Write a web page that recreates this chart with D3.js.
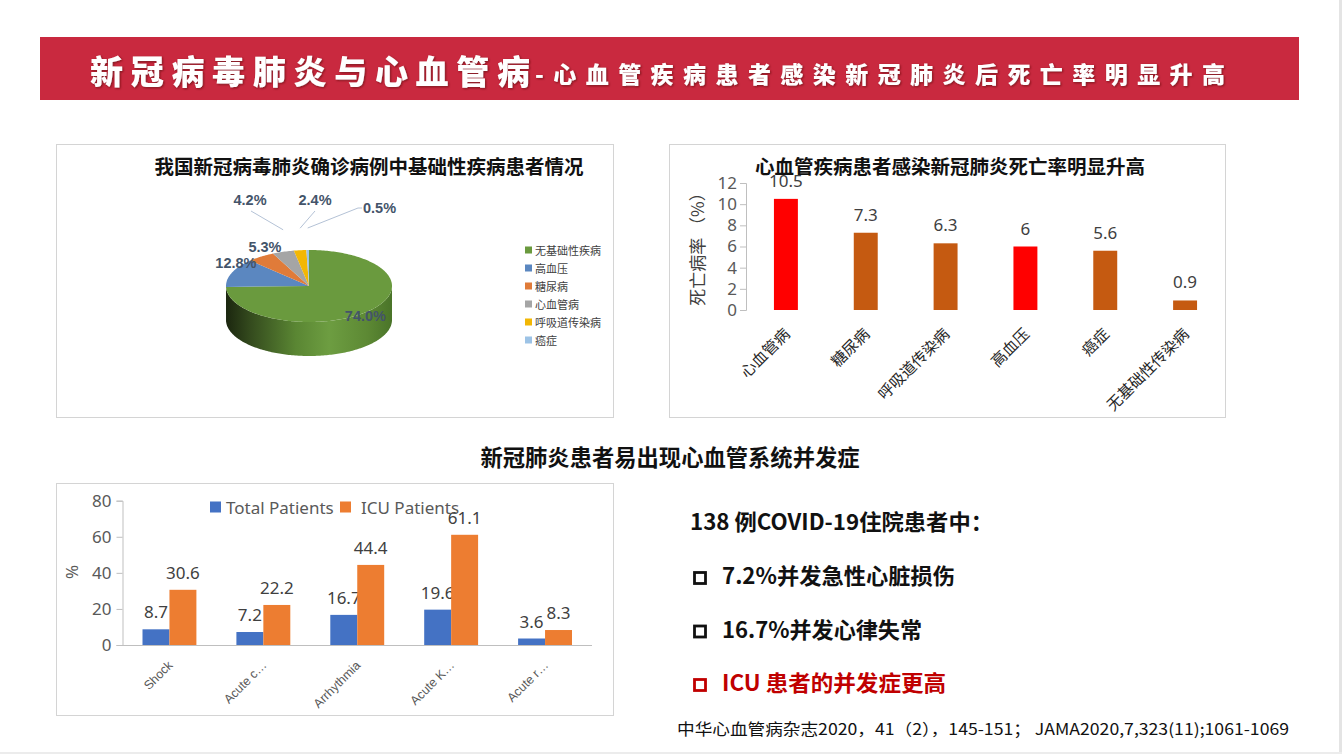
<!DOCTYPE html>
<html>
<head>
<meta charset="utf-8">
<script src="https://cdn.jsdelivr.net/npm/d3@7"></script>
<style>
  body { margin: 0; background: #fff; }
  svg { display: block; font-family: "Noto Sans CJK SC", "Noto Sans", sans-serif; }
</style>
</head>
<body>
<svg id="page" width="1342" height="754"></svg>
<script>
// ---- data ----
var pieCats = ["无基础性疾病", "高血压", "糖尿病", "心血管病", "呼吸道传染病", "癌症"];
var pieVals = [74.0, 12.8, 5.3, 4.2, 2.4, 0.5];
var pieColors = ["#6a9a3e", "#5b87c0", "#e07b39", "#a5a5a5", "#f2b705", "#9dc3e6"];

var mortCats = ["心血管病", "糖尿病", "呼吸道传染病", "高血压", "癌症", "无基础性传染病"];
var mortVals = [10.5, 7.3, 6.3, 6, 5.6, 0.9];
var mortTicks = [0, 2, 4, 6, 8, 10, 12];
var mortHighlight = ["心血管病", "高血压"];

var compCats = ["Shock", "Acute c…", "Arrhythmia", "Acute K…", "Acute r…"];
var totalVals = [8.7, 7.2, 16.7, 19.6, 3.6];
var icuVals = [30.6, 22.2, 44.4, 61.1, 8.3];
var compTicks = [0, 20, 40, 60, 80];
var compSeries = ["Total Patients", "ICU Patients"];

var svg = d3.select("#page");
var defs = svg.append("defs");

// page edges
svg.append("rect").attr("x", 1339).attr("y", 0).attr("width", 3).attr("height", 754).attr("fill", "#e4e4e4");
svg.append("rect").attr("x", 0).attr("y", 752).attr("width", 1342).attr("height", 2).attr("fill", "#ececec");

// ---- banner ----
var shadow = defs.append("filter").attr("id", "tshadow");
shadow.append("feDropShadow").attr("dx", 1).attr("dy", 1).attr("stdDeviation", 0.8)
    .attr("flood-color", "#5a0a14").attr("flood-opacity", 0.7);

svg.append("rect").attr("x", 40).attr("y", 37).attr("width", 1259).attr("height", 63).attr("fill", "#c9293f");
svg.append("text").attr("x", 90).attr("y", 84)
    .attr("textLength", 440).attr("lengthAdjust", "spacing")
    .attr("fill", "#fff").attr("font-size", 33).attr("font-weight", 900)
    .attr("filter", "url(#tshadow)")
    .text("新冠病毒肺炎与心血管病");
svg.append("text").attr("x", 535).attr("y", 83)
    .attr("textLength", 690).attr("lengthAdjust", "spacing")
    .attr("fill", "#fff").attr("font-size", 23).attr("font-weight", 900)
    .attr("filter", "url(#tshadow)")
    .text("-心血管疾病患者感染新冠肺炎后死亡率明显升高");

// ---- panel frames ----
function frame(x, y, w, h) {
    svg.append("rect").attr("x", x + 0.5).attr("y", y + 0.5).attr("width", w).attr("height", h)
        .attr("fill", "none").attr("stroke", "#d4d4d4").attr("stroke-width", 1);
}
frame(56, 144, 557, 273);
frame(669, 144, 556, 273);
frame(56, 483, 557, 232);

// ---- panel 1: 3d pie ----
svg.append("text").attr("x", 369).attr("y", 174).attr("text-anchor", "middle")
    .attr("font-size", 19.5).attr("font-weight", "bold").attr("fill", "#111")
    .text("我国新冠病毒肺炎确诊病例中基础性疾病患者情况");

var cx = 309, cy = 286, rx = 83, ry = 36, depth = 34;
function ell(a, k) { return [cx + rx * k * Math.sin(a), cy - ry * k * Math.cos(a)]; }
function samples(a0, a1) {
    var n = Math.max(2, Math.ceil(Math.abs(a1 - a0) / 0.02)), pts = [];
    for (var i = 0; i <= n; i++) pts.push(ell(a0 + (a1 - a0) * i / n, 1));
    return pts;
}

var sideGrad = defs.append("linearGradient").attr("id", "sideGreen")
    .attr("gradientUnits", "userSpaceOnUse")
    .attr("x1", cx - rx).attr("x2", cx + rx).attr("y1", 0).attr("y2", 0);
[[0, "#1b260f"], [0.14, "#33491d"], [0.42, "#5a8633"], [0.62, "#6d9d41"], [0.85, "#5d8934"], [1, "#4a7429"]]
    .forEach(function (s) { sideGrad.append("stop").attr("offset", s[0]).attr("stop-color", s[1]); });

var arcs = d3.pie().sort(null).value(function (d) { return d; })
    .startAngle(0).endAngle(2 * Math.PI)(pieVals);

var pieG = svg.append("g");
arcs.forEach(function (a, i) {
    var s = Math.max(a.startAngle, Math.PI / 2), e = Math.min(a.endAngle, 3 * Math.PI / 2);
    if (e <= s) return;
    var topPts = samples(s, e);
    var botPts = topPts.map(function (p) { return [p[0], p[1] + depth]; }).reverse();
    pieG.append("path").attr("d", d3.line()(topPts.concat(botPts)) + "Z")
        .attr("fill", i == 0 ? "url(#sideGreen)" : d3.color(pieColors[i]).darker(1));
});
arcs.forEach(function (a, i) {
    var pts = [[cx, cy]].concat(samples(a.startAngle, a.endAngle));
    pieG.append("path").attr("d", d3.line()(pts) + "Z").attr("fill", pieColors[i]);
});

// pie labels
var small = 0;
arcs.forEach(function (a, i) {
    var mid = (a.startAngle + a.endAngle) / 2;
    var p = ell(mid, 1);
    var lbl = pieVals[i].toFixed(1) + "%";
    var t = svg.append("text").attr("font-family", "Liberation Sans, Arial, sans-serif")
        .attr("font-size", 14.5).attr("font-weight", "bold").attr("fill", "#44546a")
        .attr("dominant-baseline", "central");
    if (pieVals[i] >= 5) {
        t.attr("x", p[0] + (Math.cos(mid) < 0 ? -3 : 4)).attr("y", p[1] + (Math.cos(mid) < 0 ? 5 : -10))
            .attr("text-anchor", "middle").text(lbl);
    } else {
        var j = small++;
        var sx = p[0], sy = p[1] - 22;
        var lx = cx + (j - 1) * 65 + 6;
        var pts;
        if (j < 2) {
            pts = [[sx, sy], [lx + (j == 0 ? 1 : 0), cy - 75]];
            t.attr("x", lx).attr("y", cy - 86).attr("text-anchor", "middle");
        } else {
            pts = [[sx, sy], [lx - 22, cy - 78], [lx - 18, cy - 78]];
            t.attr("x", lx - 17).attr("y", cy - 78).attr("text-anchor", "start");
        }
        t.text(lbl);
        svg.append("path").attr("d", d3.line()(pts)).attr("fill", "none")
            .attr("stroke", "#b4c2d6").attr("stroke-width", 1);
    }
});

// pie legend
var pieLeg = svg.append("g").attr("transform", "translate(525,250)");
pieCats.forEach(function (c, i) {
    var g = pieLeg.append("g").attr("transform", "translate(0," + (i * 18) + ")");
    g.append("rect").attr("x", 0).attr("y", -3.5).attr("width", 7).attr("height", 7).attr("fill", pieColors[i]);
    g.append("text").attr("x", 10).attr("y", 0).attr("dominant-baseline", "central")
        .attr("font-size", 11).attr("fill", "#404040").text(c);
});

// ---- panel 2: mortality bars ----
svg.append("text").attr("x", 950).attr("y", 174).attr("text-anchor", "middle")
    .attr("font-size", 19.5).attr("font-weight", "bold").attr("fill", "#111")
    .text("心血管疾病患者感染新冠肺炎死亡率明显升高");

var mx = d3.scaleBand().domain(mortCats).range([746, 1225]).paddingInner(0.7).paddingOuter(0.35);
var my = d3.scaleLinear().domain([0, 12]).range([310, 183]);

var mAxis = svg.append("g").attr("transform", "translate(746,0)")
    .call(d3.axisLeft(my).tickValues(mortTicks).tickSizeOuter(0).tickSize(6).tickPadding(3));
mAxis.select(".domain").attr("stroke", "#bfbfbf");
mAxis.selectAll(".tick line").attr("stroke", "#bfbfbf");
mAxis.selectAll(".tick text").attr("font-size", 17).attr("fill", "#595959")
    .attr("font-family", "Noto Sans, Open Sans, sans-serif");

svg.append("text").attr("transform", "translate(704,245) rotate(-90)")
    .attr("text-anchor", "middle").attr("font-size", 17).attr("fill", "#404040")
    .text("死亡病率 （%）");

svg.selectAll(".mbar").data(mortCats).enter().append("rect")
    .attr("class", "mbar")
    .attr("x", function (d) { return mx(d); })
    .attr("y", function (d, i) { return my(mortVals[i]); })
    .attr("width", mx.bandwidth())
    .attr("height", function (d, i) { return my(0) - my(mortVals[i]); })
    .attr("fill", function (d) { return mortHighlight.indexOf(d) >= 0 ? "#ff0000" : "#c55a11"; });

svg.selectAll(".mval").data(mortCats).enter().append("text")
    .attr("x", function (d) { return mx(d) + mx.bandwidth() / 2; })
    .attr("y", function (d, i) { return my(mortVals[i]) - 12; })
    .attr("text-anchor", "middle").attr("font-size", 17).attr("fill", "#404040")
    .attr("font-family", "Noto Sans, Open Sans, sans-serif")
    .text(function (d, i) { return mortVals[i]; });

svg.selectAll(".mcat").data(mortCats).enter().append("text")
    .attr("transform", function (d) {
        return "translate(" + (mx(d) + mx.bandwidth() / 2 + 5) + ",335) rotate(-45)";
    })
    .attr("text-anchor", "end").attr("font-size", 15.5).attr("fill", "#262626")
    .text(function (d) { return d; });

// ---- section heading ----
svg.append("text").attr("x", 670).attr("y", 466).attr("text-anchor", "middle")
    .attr("font-size", 22.3).attr("font-weight", "bold").attr("fill", "#111")
    .text("新冠肺炎患者易出现心血管系统并发症");

// ---- panel 3: complications ----
var cx0 = d3.scaleBand().domain(compCats).range([122.5, 592]).paddingInner(0.426).paddingOuter(0.213);
var cx1 = d3.scaleBand().domain(compSeries).range([0, cx0.bandwidth()]);
var cy3 = d3.scaleLinear().domain([0, 80]).range([645, 500.7]);
var compColors = ["#4472c4", "#ed7d31"];

var cAxis = svg.append("g").attr("transform", "translate(122.5,0)")
    .call(d3.axisLeft(cy3).tickValues(compTicks).tickSizeOuter(0).tickSize(6).tickPadding(5));
cAxis.select(".domain").attr("stroke", "#bfbfbf");
cAxis.selectAll(".tick line").attr("stroke", "#bfbfbf");
cAxis.selectAll(".tick text").attr("font-size", 17).attr("fill", "#595959")
    .attr("font-family", "Noto Sans, Open Sans, sans-serif");

svg.append("line").attr("x1", 122.5).attr("x2", 592).attr("y1", cy3(0) + 0.5).attr("y2", cy3(0) + 0.5)
    .attr("stroke", "#bfbfbf");

svg.append("text").attr("transform", "translate(78,572) rotate(-90)")
    .attr("text-anchor", "middle").attr("font-size", 17).attr("fill", "#595959")
    .attr("font-family", "Noto Sans, Open Sans, sans-serif")
    .text("%");

var seriesVals = [totalVals, icuVals];
seriesVals.forEach(function (vals, s) {
    svg.selectAll(".cbar" + s).data(compCats).enter().append("rect")
        .attr("x", function (d) { return cx0(d) + cx1(compSeries[s]); })
        .attr("y", function (d, i) { return cy3(vals[i]); })
        .attr("width", cx1.bandwidth())
        .attr("height", function (d, i) { return cy3(0) - cy3(vals[i]); })
        .attr("fill", compColors[s]);
    svg.selectAll(".cval" + s).data(compCats).enter().append("text")
        .attr("x", function (d) { return cx0(d) + cx1(compSeries[s]) + cx1.bandwidth() / 2; })
        .attr("y", function (d, i) { return cy3(vals[i]) - 11; })
        .attr("text-anchor", "middle").attr("font-size", 17).attr("fill", "#404040")
        .attr("font-family", "Noto Sans, Open Sans, sans-serif")
        .text(function (d, i) { return vals[i]; });
});

svg.selectAll(".ccat").data(compCats).enter().append("text")
    .attr("transform", function (d) {
        return "translate(" + (cx0(d) + cx0.bandwidth() / 2 + 4) + ",666) rotate(-45)";
    })
    .attr("text-anchor", "end").attr("font-size", 12.5).attr("fill", "#595959")
    .attr("font-family", "Liberation Sans, Arial, sans-serif")
    .text(function (d) { return d; });

var cLeg = svg.append("g").attr("transform", "translate(210,507)");
var legX = [0, 130];
compSeries.forEach(function (s, i) {
    cLeg.append("rect").attr("x", legX[i]).attr("y", -5.5).attr("width", 11).attr("height", 11).attr("fill", compColors[i]);
    cLeg.append("text").attr("x", legX[i] + 16 + (i == 1 ? 5 : 0)).attr("y", 0).attr("dominant-baseline", "central")
        .attr("font-size", 17).attr("fill", "#595959")
        .attr("font-family", "Noto Sans, Open Sans, sans-serif").text(s);
});

// ---- right-hand text ----
var notes = [
    { t: "7.2%并发急性心脏损伤", c: "#111", w: 233 },
    { t: "16.7%并发心律失常", c: "#111", w: 200 },
    { t: "ICU 患者的并发症更高", c: "#c00000", w: 224 }
];
svg.append("text").attr("x", 690).attr("y", 530).attr("font-size", 22).attr("font-weight", "bold")
    .attr("textLength", 303).attr("lengthAdjust", "spacingAndGlyphs")
    .attr("fill", "#111").text("138 例COVID-19住院患者中：");
notes.forEach(function (n, i) {
    var base = 584 + i * 53.5;
    svg.append("rect").attr("x", 694.5).attr("y", base - 11.5).attr("width", 11).attr("height", 11)
        .attr("fill", "none").attr("stroke", n.c).attr("stroke-width", 2.8);
    svg.append("text").attr("x", 722).attr("y", base).attr("font-size", 22).attr("font-weight", "bold")
        .attr("textLength", n.w).attr("lengthAdjust", "spacingAndGlyphs")
        .attr("fill", n.c).text(n.t);
});

svg.append("text").attr("x", 677).attr("y", 735).attr("font-size", 16).attr("fill", "#111")
    .attr("textLength", 612).attr("lengthAdjust", "spacingAndGlyphs")
    .text("中华心血管病杂志2020，41（2），145-151； JAMA2020,7,323(11);1061-1069");
</script>
</body>
</html>
